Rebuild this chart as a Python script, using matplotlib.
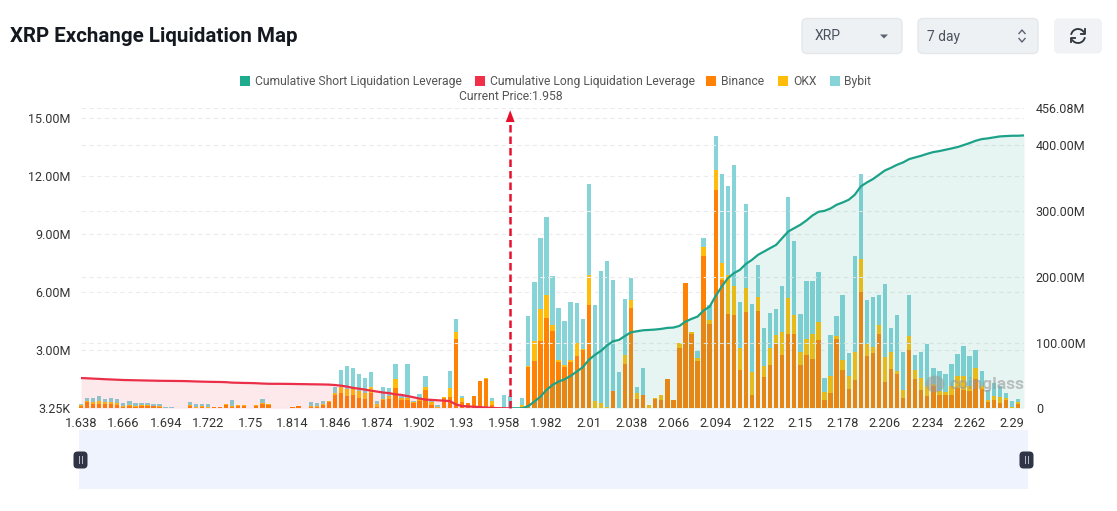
import numpy as np
import matplotlib
matplotlib.use("Agg")
import matplotlib.pyplot as plt
from matplotlib.patches import FancyBboxPatch, Rectangle, Polygon, Arc, Ellipse

# ---------- data (millions) ----------
tick_labels = ["1.638","1.666","1.694","1.722","1.75","1.814","1.846","1.874","1.902","1.93","1.958",
               "1.982","2.01","2.038","2.066","2.094","2.122","2.15","2.178","2.206","2.234","2.262","2.29"]
current_index = 71
binance = [.14,.31,.24,.24,.21,.22,.17,.05,.10,.05,.12,.12,.12,.07,.02,.02,.02,.01,.12,.03,.05,.03,.07,.05,.19,.05,.14,.14,0,.14,
 .21,.19,.02,.01,.02,.07,.10,.02,.09,.09,.17,.31,.67,.81,.64,.71,.52,.50,.81,.05,.41,.46,1.05,.43,.41,.26,.38,.95,.17,.03,
 .55,.60,3.59,.33,.29,.62,1.41,1.53,.15,.02,.02,.02,0,.09,2.12,2.43,3.46,4.64,3.99,2.41,2.13,2.41,2.70,2.99,5.33,0,0,0,.89,.01,
 2.30,5.16,.46,.69,0,.48,.45,1.51,.41,3.13,6.47,3.85,2.44,7.89,4.33,11.25,6.64,4.88,4.82,2.00,4.97,.71,5.04,1.60,2.22,3.35,2.73,3.82,3.85,2.25,
 2.77,2.53,3.53,.41,.81,3.58,2.00,1.00,1.44,5.99,2.72,2.86,3.82,1.34,2.05,1.75,.53,2.99,1.51,.96,.62,1.14,.71,.67,.67,1.05,.96,.88,1.51,1.00,
 .31,.45,.28,.41,.03,.24,0]
okx = [.02,.07,.10,.14,.10,.12,.09,.05,.07,.07,.07,.03,.02,.05,.02,.02,0,0,.07,.02,.05,.03,.02,.02,.02,.05,.02,.02,0,.02,
 .07,.02,0,0,0,.02,.02,0,.03,.05,.03,.05,.14,.29,.38,.28,.36,.31,.28,.17,.09,.17,.48,.09,.14,.09,.15,.17,.14,.02,
 .05,.45,.36,.21,0,0,0,.03,.22,0,.02,.02,0,.09,.07,1.03,1.69,1.19,.31,.07,.10,.07,.65,.05,1.53,.38,.26,.09,0,.02,
 .45,.43,.31,.02,.15,.03,.24,0,0,.24,0,.10,.17,.43,.22,1.07,.89,2.00,1.51,1.10,1.22,1.15,.72,.60,.89,.45,1.22,1.89,.98,.65,
 .81,1.29,.91,.41,.84,.17,.52,.69,1.48,1.72,.58,.31,.46,1.31,.88,.17,.43,.76,.45,.58,.52,.09,.17,.17,.46,.64,.69,.26,.58,.14,
 .14,.17,.29,.12,.03,.07,0]
bybit = [.07,.17,.19,.24,.17,.21,.21,.15,.21,.14,.09,.14,.07,.10,.02,.02,.02,.01,.12,.15,.12,.14,0,.01,.02,.33,.03,.02,0,.02,
 .19,.02,.01,.01,0,0,.02,0,.22,.14,.19,.03,.31,.86,1.19,1.08,.89,.77,.77,.15,.62,.40,.74,.09,1.75,.03,.22,.57,.12,.12,
 0,.86,.67,.09,0,0,0,0,.17,0,.65,.60,0,.34,2.58,3.04,3.66,4.06,2.51,2.72,2.30,3.03,2.08,1.58,4.73,4.97,6.85,7.52,5.76,1.84,
 2.91,1.14,.34,1.39,0,0,0,0,0,0,0,0,.36,.50,.79,1.75,4.56,4.58,6.23,2.39,4.37,3.53,1.65,1.96,1.82,1.32,2.36,5.19,3.80,1.96,
 2.98,2.75,2.60,.77,2.12,1.01,3.34,1.17,4.95,4.37,2.27,2.56,1.57,3.77,1.24,2.89,1.94,2.12,.81,1.39,2.17,.83,1.03,.91,1.17,1.12,1.55,1.58,.93,.79,
 .52,.69,.57,.26,.31,.17,.02]
cum_long = [46,45.6,45.1,44.7,44.2,43.8,43.4,43,42.8,42.6,42.4,42.2,42,41.8,41.7,41.6,41.5,41.4,41.1,40.8,40.5,40.3,40.1,40,39.7,39,38.8,38.5,38.4,38.1,
 37.6,37.3,37.2,37.2,37.1,37,36.8,36.7,36.5,36.4,36.2,36,35.4,34.4,33,31,29.8,28.4,26.8,25.4,24,23,21.2,20.4,18.6,16.8,14.8,13.2,12.8,12.2,
 11.6,11,6,3.5,2.9,2.4,1.8,1.2,.6,.2,.1,0]
cum_short = [0,0,0,3.5,10.1,17.7,27.9,35.5,40.6,44.1,49.2,55.8,62.4,73.5,81.1,87.2,95.3,101.9,103.9,110,115.6,117.1,118.6,119.1,119.7,120.7,122.2,122.7,125.2,
 131.8,135.9,139.4,148.6,154.6,170.9,185,197.7,205.3,210.4,219.5,225.6,233.2,238.3,243.4,248.4,258.6,268.7,273.8,278.9,285.4,293,298.6,300.1,303.7,309.3,312.8,316.9,
 324.5,337.2,343.2,348.3,354.9,361.5,365.5,370.1,373.7,378.7,381.3,383.8,386.8,389.4,390.9,392.9,394.9,397,400,403.1,406.6,409.1,410.2,411.7,413.2,413.7,414.2,414.2,414.7]
left_ticks = [0.00325, 3, 6, 9, 12, 15]
left_labels = ["3.25K", "3.00M", "6.00M", "9.00M", "12.00M", "15.00M"]
right_ticks = [0, 100, 200, 300, 400, 456.08]
right_labels = ["0", "100.00M", "200.00M", "300.00M", "400.00M", "456.08M"]
legend_names = ["Cumulative Short Liquidation Leverage", "Cumulative Long Liquidation Leverage", "Binance", "OKX", "Bybit"]

# ---------- styles ----------
C_SHORT, C_LONG, C_BIN, C_OKX, C_BYB = "#1FAB8E", "#F0304A", "#FF8205", "#FFBC0A", "#86D3D8"
W, H = 1117, 511
plt.rcParams["font.family"] = ["Roboto", "DejaVu Sans"]
fig = plt.figure(figsize=(W/100, H/100), dpi=100, facecolor="white")
X0, X1, YB, YT = 81, 1024, 408.3, 108.2
ax = fig.add_axes([X0/W, 1-YB/H, (X1-X0)/W, (YB-YT)/H], zorder=1)
ax2 = ax.twinx(); ax2.set_zorder(2); ax2.patch.set_alpha(0)

def bx(x, y, w, h, fc, ec="none", r=5, lw=1):
    fig.add_artist(FancyBboxPatch((x/W, 1-(y+h)/H), w/W, h/H, boxstyle=f"round,pad=0,rounding_size={r/W}",
                                  mutation_aspect=W/H, fc=fc, ec=ec, lw=lw, transform=fig.transFigure))

xs = np.arange(len(binance))
b, o, y = map(np.array, (binance, okx, bybit))
ax.bar(xs, b, 0.72, color=C_BIN, clip_on=False, zorder=3)
ax.bar(xs, o, 0.72, bottom=b, color=C_OKX, clip_on=False, zorder=3)
ax.bar(xs, y, 0.72, bottom=b+o, color=C_BYB, clip_on=False, zorder=3)
ax.set_xlim(0, len(xs)-1); ax.set_ylim(0, 15.5)
ax.set_xticks(np.arange(len(tick_labels))*7, tick_labels)
ax.set_yticks(left_ticks, left_labels)
ax.tick_params(axis="x", length=0, pad=6.5, labelsize=9.3, colors="#333333")
ax.tick_params(axis="y", length=0, pad=7.5, labelsize=9.0, colors="#333333")
ax.grid(axis="y", color="#ECECEC", ls=(0, (4, 3)), lw=0.8, zorder=0)
ax.set_axisbelow(True)

xl = np.arange(len(cum_long))
xsh = np.arange(current_index, current_index+len(cum_short))
ax2.fill_between(xl, cum_long, 0, color=C_LONG, alpha=0.11, lw=0, zorder=4)
ax2.fill_between(xsh, cum_short, 0, color=C_SHORT, alpha=0.11, lw=0, zorder=4)
ax2.plot(xl, cum_long, color="#EC2F48", lw=1.6, zorder=6, solid_capstyle="round")
ax2.plot(xsh, cum_short, color="#1CA288", lw=1.6, zorder=6, solid_capstyle="round")
ax2.set_ylim(0, 456.08)
ax2.set_yticks(right_ticks, right_labels)
ax2.tick_params(axis="y", length=0, pad=8.5, labelsize=9.0, colors="#333333")
ax2.grid(axis="y", color="#ECECEC", ls=(0, (4, 3)), lw=0.8, zorder=0)
ax2.set_axisbelow(True)
for a in (ax, ax2):
    for s in a.spines.values():
        s.set_visible(False)

# current price marker
ax2.plot([current_index]*2, [0, 433], color="#E8112D", lw=1.8, ls=(0, (3, 1.6)), zorder=7, clip_on=False)
ax2.annotate("", xy=(current_index, 453), xytext=(current_index, 430),
             arrowprops=dict(arrowstyle="-|>,head_width=0.32,head_length=0.85", color="#E8112D", lw=0, shrinkA=0, shrinkB=0), zorder=8)
fig.text(510.5/W, 1-97/H, "Current Price:1.958", ha="center", va="center", fontsize=8.7, color="#555555")

# title
fig.text(10/W, 1-36.5/H, "XRP Exchange Liquidation Map", ha="left", va="center", fontsize=14.8,
         fontweight="bold", color="#14181F")

# legend
sq_x = [240, 475, 706, 778, 830]
tx_x = [255, 490, 721, 793, 844]
for sx, tx, c, n in zip(sq_x, tx_x, [C_SHORT, C_LONG, C_BIN, C_OKX, C_BYB], legend_names):
    fig.add_artist(Rectangle((sx/W, 1-86/H), 10/W, 10/H, fc=c, ec="none", transform=fig.transFigure))
    fig.text(tx/W, 1-81.5/H, n, ha="left", va="center", fontsize=8.7, color="#555555")

# controls
bx(802, 18.5, 100, 35, "#EEF1F4", "#E4E7EB")
bx(918, 18.5, 120, 35, "#EEF1F4", "#E4E7EB")
bx(1054, 18.5, 48, 35, "#F0F2F5", "none")
fig.text(815/W, 1-36.5/H, "XRP", ha="left", va="center", fontsize=10, color="#4A5360")
fig.text(927/W, 1-36.5/H, "7 day", ha="left", va="center", fontsize=10, color="#4A5360")
fig.add_artist(Polygon([[880/W, 1-34.5/H], [888/W, 1-34.5/H], [884/W, 1-38.5/H]], fc="#5A6370", ec="none", transform=fig.transFigure))
for pts in ([[1019, 33.5], [1022, 30], [1025, 33.5]], [[1019, 38.5], [1022, 42], [1025, 38.5]]):
    fig.add_artist(plt.Line2D([p[0]/W for p in pts], [1-p[1]/H for p in pts], color="#5A6370", lw=1, transform=fig.transFigure))

# refresh icon, drawn in pixel coordinates on a helper overlay
ov = fig.add_axes([0, 0, 1, 1], zorder=5); ov.set_xlim(0, W); ov.set_ylim(H, 0); ov.axis("off")
ov.add_patch(Arc((1078, 36), 14, 14, theta1=190, theta2=330, color="#2C333A", lw=1.3))
ov.add_patch(Arc((1078, 36), 14, 14, theta1=10, theta2=150, color="#2C333A", lw=1.3))
ov.plot([1085, 1085, 1081], [29.5, 34, 34], color="#2C333A", lw=1.3)
ov.plot([1071, 1071, 1075], [42.5, 38, 38], color="#2C333A", lw=1.3)

# slider
ov.add_patch(Rectangle((79, 430), 949, 59, fc="#EFF3FE", ec="none", zorder=1))
for hx in (80.5, 1026.5):
    ov.add_patch(FancyBboxPatch((hx-7, 451.5), 14, 17, boxstyle="round,pad=0,rounding_size=4", fc="#2F3446", ec="none", zorder=2))
    for d in (-1.5, 1.5):
        ov.plot([hx+d]*2, [456.5, 463.5], color="#B8BCC8", lw=0.7, zorder=3)

# watermark
ov.text(950, 385, "coinglass", ha="left", va="center", fontsize=12.5, fontweight="bold",
        color="#9A9A9A", alpha=0.6, zorder=10)
ov.add_patch(Ellipse((935, 384), 19, 17, fc="#9A9A9A", ec="none", alpha=0.55, zorder=10))

fig.savefig("out.png", dpi=100)
